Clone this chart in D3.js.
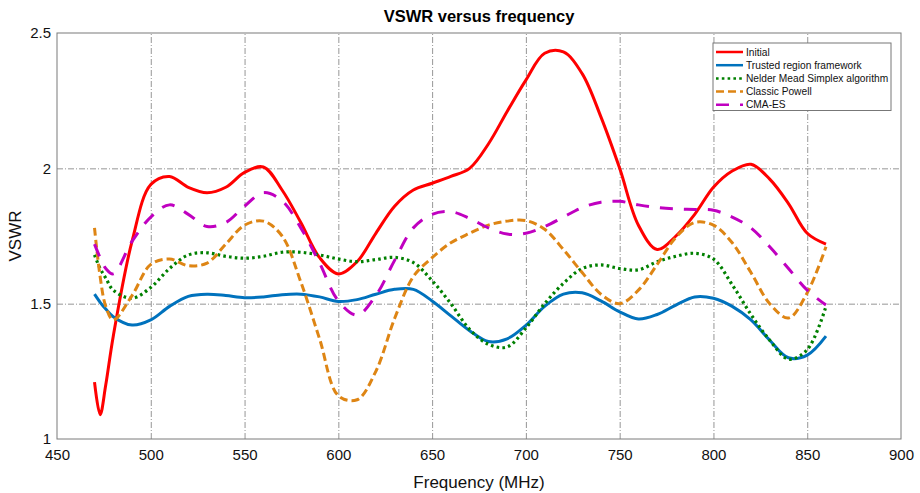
<!DOCTYPE html>
<html>
<head>
<meta charset="utf-8">
<script src="https://cdn.jsdelivr.net/npm/d3@7"></script>
<style>
  body { margin: 0; background: #fff; }
  text { font-family: "Liberation Sans", Arial, sans-serif; }
  .grid line { stroke: #8a8a8a; stroke-width: 0.9; stroke-dasharray: 6,2,1,2; }
</style>
</head>
<body>
<svg width="920" height="493"></svg>
<script>
// frequency samples (MHz)
var freq = [470, 473, 476, 480, 490, 500, 510, 520, 530, 540, 550, 560, 570, 580, 590,
            600, 610, 620, 630, 640, 650, 660, 670, 680, 690, 700, 710, 720, 730, 740,
            750, 760, 770, 780, 790, 800, 810, 820, 830, 840, 850, 860];

var initial = [1.21, 1.09, 1.20, 1.38, 1.73, 1.94, 1.97, 1.93, 1.91, 1.93, 1.985, 2.005, 1.92, 1.80, 1.67,
               1.61, 1.655, 1.76, 1.86, 1.92, 1.945, 1.97, 2.00, 2.09, 2.21, 2.326, 2.425, 2.43, 2.35, 2.19,
               2.00, 1.79, 1.70, 1.75, 1.83, 1.93, 1.99, 2.015, 1.96, 1.87, 1.76, 1.72];
var trusted = [1.535, 1.505, 1.48, 1.452, 1.421, 1.44, 1.49, 1.527, 1.535, 1.53, 1.522, 1.525, 1.533, 1.535, 1.525,
               1.508, 1.515, 1.535, 1.553, 1.553, 1.51, 1.455, 1.40, 1.36, 1.37, 1.42, 1.49, 1.535, 1.54, 1.51,
               1.47, 1.443, 1.46, 1.495, 1.525, 1.52, 1.49, 1.44, 1.365, 1.30, 1.31, 1.38];
var nelder = [1.68, 1.63, 1.595, 1.55, 1.52, 1.56, 1.63, 1.68, 1.688, 1.675, 1.668, 1.675, 1.69, 1.69, 1.68,
              1.665, 1.655, 1.663, 1.671, 1.652, 1.585, 1.50, 1.405, 1.35, 1.34, 1.41, 1.50, 1.575, 1.63, 1.643,
              1.63, 1.625, 1.655, 1.675, 1.686, 1.665, 1.57, 1.46, 1.365, 1.295, 1.33, 1.49];
var powell = [1.78, 1.60, 1.49, 1.44, 1.53, 1.645, 1.665, 1.64, 1.65, 1.72, 1.79, 1.805, 1.75, 1.58, 1.37,
              1.16, 1.145, 1.25, 1.445, 1.60, 1.67, 1.725, 1.76, 1.79, 1.805, 1.807, 1.775, 1.70, 1.615, 1.535,
              1.50, 1.55, 1.645, 1.745, 1.80, 1.79, 1.725, 1.615, 1.50, 1.447, 1.54, 1.71];
var cmaes = [1.72, 1.67, 1.63, 1.61, 1.73, 1.82, 1.865, 1.83, 1.785, 1.80, 1.86, 1.91, 1.88, 1.78, 1.65,
             1.51, 1.458, 1.53, 1.66, 1.78, 1.83, 1.84, 1.815, 1.78, 1.757, 1.76, 1.785, 1.82, 1.855, 1.875,
             1.878, 1.865, 1.855, 1.85, 1.848, 1.845, 1.82, 1.78, 1.71, 1.63, 1.55, 1.495];

var names = ["Initial", "Trusted region framework", "Nelder Mead Simplex algorithm", "Classic Powell", "CMA-ES"];
var xTicks = [450, 500, 550, 600, 650, 700, 750, 800, 850, 900];
var yTicks = [1, 1.5, 2, 2.5];

var series = [
  {name: names[0], values: initial, color: "#ff0000", dash: null, width: 3},
  {name: names[1], values: trusted, color: "#0072bd", dash: null, width: 3},
  {name: names[2], values: nelder, color: "#008000", dash: "2.6,3.2", width: 3.2},
  {name: names[3], values: powell, color: "#de8514", dash: "8,4", width: 3},
  {name: names[4], values: cmaes, color: "#c000c0", dash: "13,11", width: 3}
];

var svg = d3.select("svg"),
    margin = {top: 33, right: 19, bottom: 54, left: 57},
    width = +svg.attr("width") - margin.left - margin.right,
    height = +svg.attr("height") - margin.top - margin.bottom;

var x = d3.scaleLinear().domain([450, 900]).range([0, width]),
    y = d3.scaleLinear().domain([1, 2.5]).range([height, 0]);

var g = svg.append("g")
    .attr("transform", "translate(" + margin.left + "," + margin.top + ")");

// grid
g.append("g")
    .attr("class", "grid")
    .attr("transform", "translate(0," + height + ")")
    .call(d3.axisBottom(x).tickValues(xTicks.slice(1, -1)).tickSize(-height).tickFormat(""))
    .call(function(s) { s.select(".domain").remove(); });

g.append("g")
    .attr("class", "grid")
    .call(d3.axisLeft(y).tickValues(yTicks.slice(1, -1)).tickSize(-width).tickFormat(""))
    .call(function(s) { s.select(".domain").remove(); });

// axes
var xAxis = g.append("g")
    .attr("transform", "translate(0," + height + ")")
    .call(d3.axisBottom(x).tickValues(xTicks).tickSize(0).tickPadding(10).tickFormat(d3.format("d")));
xAxis.select(".domain").remove();
xAxis.selectAll("text").attr("font-size", 15).attr("fill", "#111");

var yAxis = g.append("g")
    .call(d3.axisLeft(y).tickValues(yTicks).tickSize(0).tickPadding(6).tickFormat(d3.format("")));
yAxis.select(".domain").remove();
yAxis.selectAll("text").attr("font-size", 15).attr("fill", "#111");

// curves
var line = d3.line()
    .x(function(d, i) { return x(freq[i]); })
    .y(function(d) { return y(d); })
    .curve(d3.curveCatmullRom.alpha(0.5));

g.selectAll(".curve")
  .data(series)
  .enter().append("path")
    .attr("class", "curve")
    .attr("fill", "none")
    .attr("stroke", function(d) { return d.color; })
    .attr("stroke-width", function(d) { return d.width; })
    .attr("stroke-dasharray", function(d) { return d.dash; })
    .attr("d", function(d) { return line(d.values); });

// box
g.append("rect")
    .attr("width", width)
    .attr("height", height)
    .attr("fill", "none")
    .attr("stroke", "#7a7a7a")
    .attr("stroke-width", 1);

// title and labels
svg.append("text")
    .attr("x", margin.left + width / 2)
    .attr("y", 22)
    .attr("text-anchor", "middle")
    .attr("font-size", 16.5)
    .attr("font-weight", "bold")
    .text("VSWR versus frequency");

svg.append("text")
    .attr("x", margin.left + width / 2)
    .attr("y", 488)
    .attr("text-anchor", "middle")
    .attr("font-size", 17)
    .attr("fill", "#111")
    .text("Frequency (MHz)");

svg.append("text")
    .attr("transform", "rotate(-90)")
    .attr("x", -(margin.top + height / 2))
    .attr("y", 21)
    .attr("text-anchor", "middle")
    .attr("font-size", 17)
    .attr("fill", "#111")
    .text("VSWR");

// legend
var legend = g.append("g")
    .attr("transform", "translate(656,10)");

legend.append("rect")
    .attr("width", 178)
    .attr("height", 67.5)
    .attr("fill", "#fff")
    .attr("stroke", "#777")
    .attr("stroke-width", 1);

var item = legend.selectAll(".item")
  .data(series)
  .enter().append("g")
    .attr("class", "item")
    .attr("transform", function(d, i) { return "translate(0," + (9 + i * 13.2) + ")"; });

item.append("line")
    .attr("x1", 3).attr("x2", 30)
    .attr("stroke", function(d) { return d.color; })
    .attr("stroke-width", 2.5)
    .attr("stroke-dasharray", function(d) { return d.dash; });

item.append("text")
    .attr("x", 33)
    .attr("dy", "0.35em")
    .attr("font-size", 10.2)
    .attr("fill", "#111")
    .text(function(d) { return d.name; });
</script>
</body>
</html>
